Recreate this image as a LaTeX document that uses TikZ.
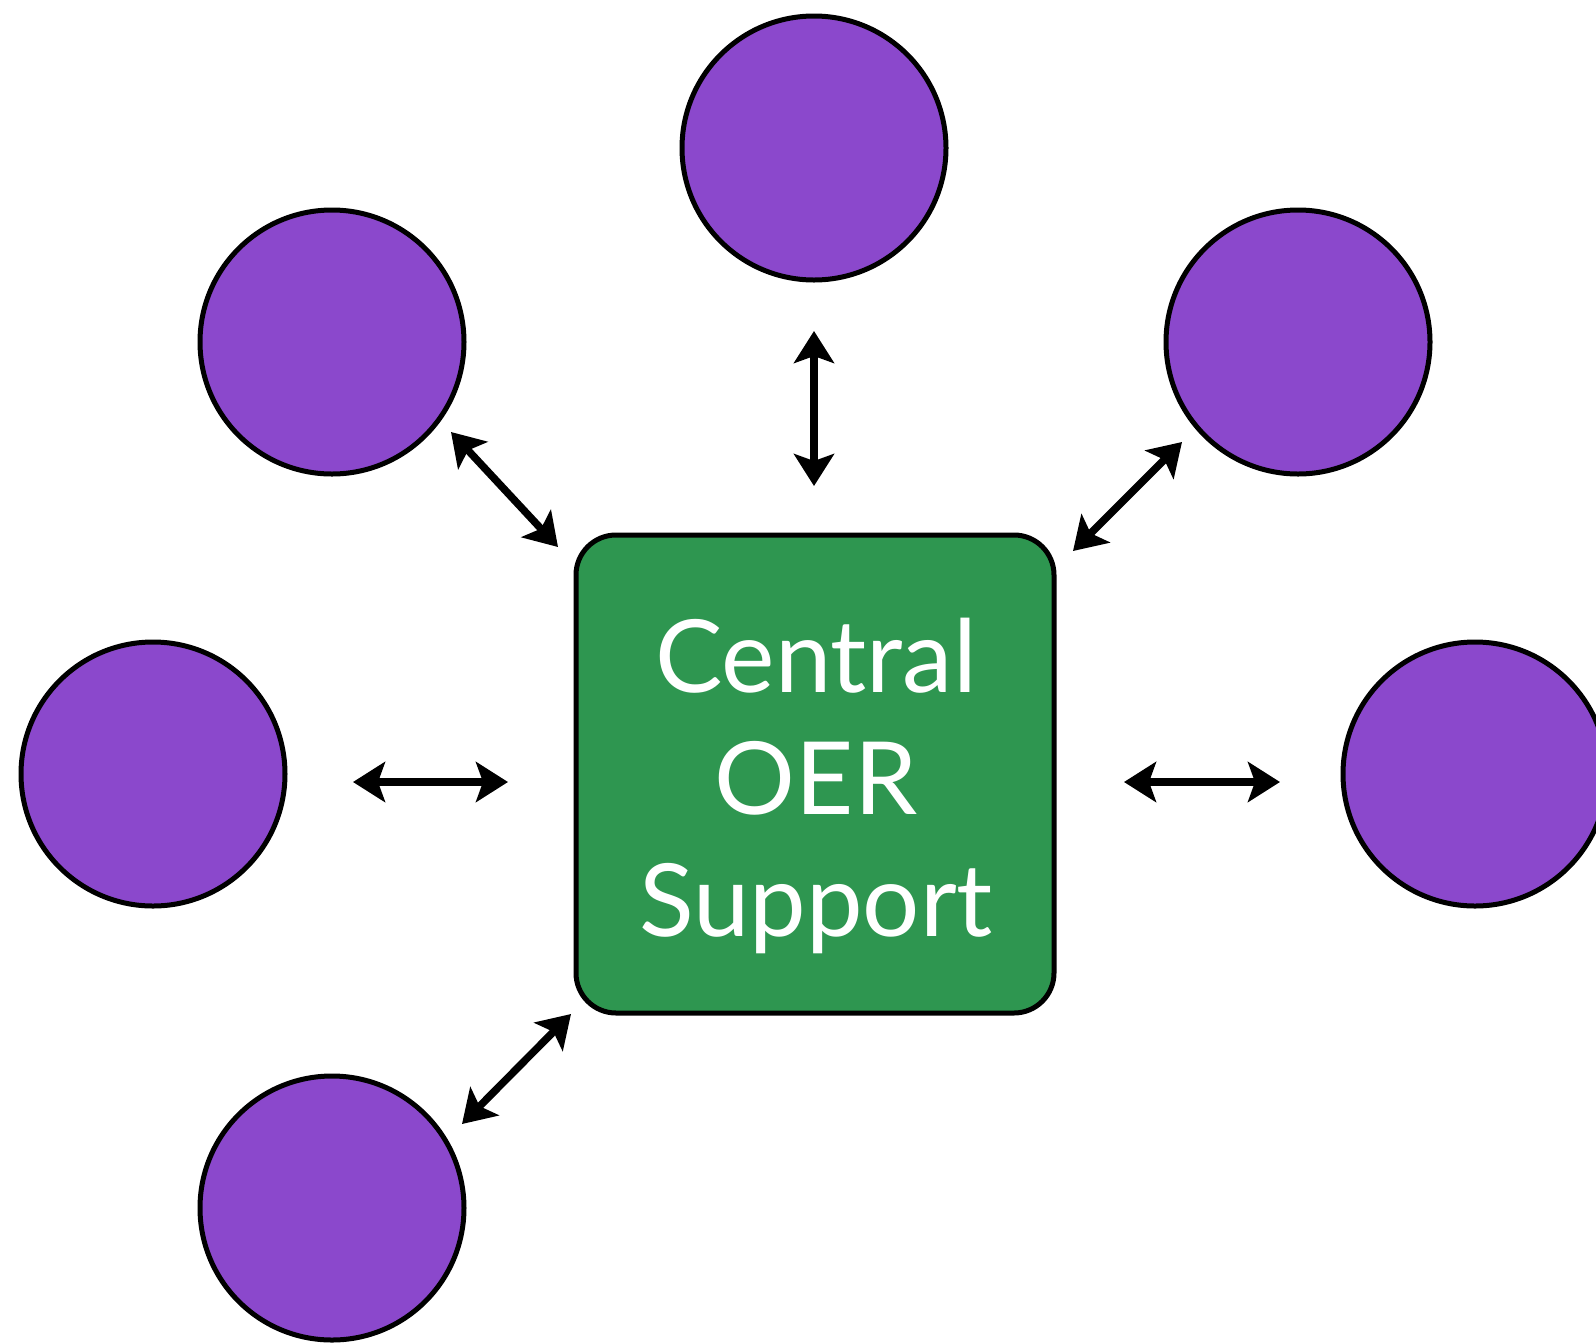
\documentclass[tikz,border=0pt]{standalone}
\usepackage{fontspec}
\setmainfont{Lato}
\usetikzlibrary{arrows.meta}
\definecolor{oerpurple}{RGB}{139,72,204}
\definecolor{oergreen}{RGB}{46,150,80}
\tikzset{
  peer/.style={circle, draw=black, line width=5pt, fill=oerpurple, minimum size=264pt, inner sep=0pt},
  hub/.style={rectangle, rounded corners=40pt, draw=black, line width=5pt, fill=oergreen, minimum width=478pt, minimum height=478pt, inner sep=0pt},
  link/.style={line width=7.5pt, {Stealth[length=32pt,width=40pt,inset=7pt]}-{Stealth[length=32pt,width=40pt,inset=7pt]}},
  hubtext/.style={align=center, font=\fontsize{101}{122}\selectfont, text=white}
}
\begin{document}
\begin{tikzpicture}[x=1pt,y=-1pt]
\useasboundingbox (0,0) rectangle (1596,1342);
\begin{scope}
\clip (0,0) rectangle (1596,1342);
\node[peer] (ntop) at (814,148) {};
\node[peer] (ntl) at (332,342) {};
\node[peer] (ntr) at (1298,342) {};
\node[peer] (nl) at (153,774) {};
\node[peer] (nr) at (1475,774) {};
\node[peer] (nbl) at (332,1208) {};
\end{scope}
\node[hub] (hub) at (815,774) {};
\node[hubtext] (label) at (816,786) {Central\\OER\\Support};
\coordinate (a1) at (814,331); \coordinate (b1) at (814,486);
\coordinate (a2) at (353,782); \coordinate (b2) at (508,782);
\coordinate (a3) at (1124,782); \coordinate (b3) at (1280,782);
\coordinate (a4) at (451,432); \coordinate (b4) at (558,547);
\coordinate (a5) at (1182,442); \coordinate (b5) at (1073,551);
\coordinate (a6) at (571,1014); \coordinate (b6) at (462,1124);
\draw[link] (a1) -- (b1);
\draw[link] (a2) -- (b2);
\draw[link] (a3) -- (b3);
\draw[link] (a4) -- (b4);
\draw[link] (a5) -- (b5);
\draw[link] (a6) -- (b6);
\end{tikzpicture}
\end{document}
